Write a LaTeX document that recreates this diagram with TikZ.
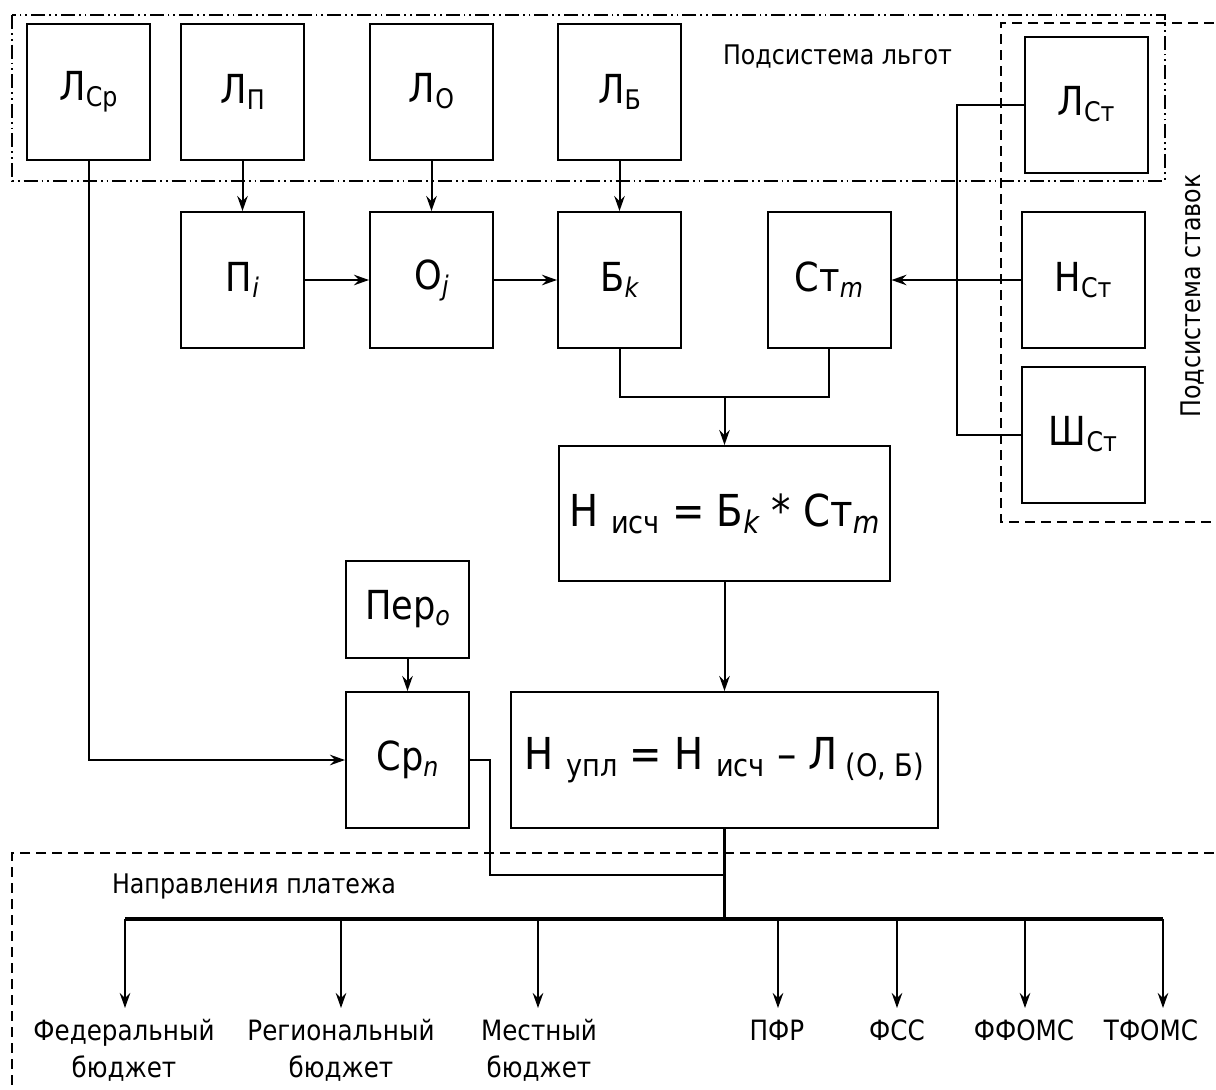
\documentclass[tikz,border=0pt]{standalone}
\usepackage{fontspec}
\setmainfont{DejaVu Sans}[FakeStretch=0.88]
\usetikzlibrary{arrows.meta}
\newcommand\lsub[1]{\raisebox{-6pt}{\fontsize{27}{27}\selectfont #1}}
\newcommand\fsub[1]{\raisebox{-7pt}{\fontsize{31}{31}\selectfont #1}}
\tikzset{
  sbox/.style={draw, line width=2pt, minimum width=123pt, minimum height=136pt, inner sep=0pt, font=\fontsize{40}{44}\selectfont},
  formbox/.style={sbox, font=\fontsize{44}{48}\selectfont},
  arr/.style={line width=2pt, -{Stealth[length=15pt,width=10.5pt,inset=5pt]}},
  ln/.style={line width=2pt},
  thinln/.style={line width=1.4pt},
  thickln/.style={line width=3.2pt},
  dashdotdot/.style={line width=1.6pt, dash pattern=on 14pt off 4pt on 1.8pt off 4pt on 1.8pt off 4pt},
  dashbox/.style={line width=1.6pt, dash pattern=on 10pt off 6pt},
  captxt/.style={font=\fontsize{27}{30}\selectfont, inner sep=0pt},
  desttxt/.style={font=\fontsize{28}{37}\selectfont, align=center, inner xsep=0pt, inner ysep=11.5pt, anchor=north},
}
\begin{document}
\begin{tikzpicture}[x=1pt,y=-1pt]
\useasboundingbox (0,0) rectangle (1216,1090);
% subsystem frames
\draw[dashdotdot] (12,15) rectangle (1165,181);
\draw[dashbox] (1230,23) -- (1001,23) -- (1001,522) -- (1230,522);
\draw[dashbox] (1230,853) -- (12,853) -- (12,1100);
\node[captxt] (tl) at (837.5,57) {Подсистема льгот};
\node[captxt, rotate=90] (ts) at (1193,296) {Подсистема ставок};
\node[captxt, anchor=base] (tn) at (254,893) {Направления платежа};
% top row
\node[sbox] (LCr) at (88.5,91.5) {Л\lsub{Ср}};
\node[sbox] (LP) at (242.5,91.5) {Л\lsub{П}};
\node[sbox] (LO) at (431.5,91.5) {Л\lsub{О}};
\node[sbox] (LB) at (619.5,91.5) {Л\lsub{Б}};
\node[sbox] (LSt) at (1086,104.5) {Л\lsub{Ст}};
% second row
\node[sbox] (Pi) at (242.5,280) {П\lsub{\itshape i}};
\node[sbox] (Oj) at (431.5,280) {О\lsub{\itshape j}};
\node[sbox] (Bk) at (619.5,280) {Б\lsub{\itshape k}};
\node[sbox] (Stm) at (829,280) {Ст\lsub{\itshape m}};
\node[sbox] (NSt) at (1083,280) {Н\lsub{Ст}};
\node[sbox] (ShSt) at (1083,434.5) {Ш\lsub{Ст}};
% formulas
\node[formbox, minimum width=331pt, minimum height=135pt] (Nis) at (724.5,513.5) {Н \fsub{исч} = Б\fsub{\itshape k} * Ст\fsub{\itshape m}};
\node[sbox, minimum height=97pt] (Per) at (407.5,609.5) {Пер\lsub{\itshape o}};
\node[sbox] (Crn) at (407.5,760) {Ср\lsub{\itshape n}};
\node[formbox, minimum width=427pt] (Nup) at (724.5,760) {Н \fsub{упл} = Н \fsub{исч} – Л\,\fsub{(О, Б)}};
% connectors
\draw[arr] (LP) -- (Pi);
\draw[arr] (LO) -- (Oj);
\draw[arr] (LB) -- (Bk);
\draw[arr] (Pi) -- (Oj);
\draw[arr] (Oj) -- (Bk);
\draw[arr] (NSt.west) -- (Stm.east);
\coordinate (jx) at (957,280);
\draw[ln] (LSt.west) -| (jx) |- (ShSt.west);
\coordinate (mj) at (724.5,397);
\draw[ln] (Bk.south) |- (mj) -| (Stm.south);
\draw[arr] (mj) -- (Nis.north);
\draw[arr] (Nis) -- (Nup);
\draw[arr] (Per) -- (Crn);
\draw[arr] (LCr.south) |- (Crn.west);
\coordinate (cj) at (490,875);
\coordinate (cb) at (724.5,875);
\draw[thinln] (Crn.east) -| (cj) -- (cb);
\coordinate (bj) at (724.5,919);
\draw[thickln] (Nup.south) -- (bj);
% destinations
\node[desttxt] (fed) at (124,1008) {Федеральный\\бюджет};
\node[desttxt] (reg) at (341,1008) {Региональный\\бюджет};
\node[desttxt] (mes) at (539,1008) {Местный\\бюджет};
\node[desttxt] (pfr) at (777,1008) {ПФР};
\node[desttxt] (fss) at (897,1008) {ФСС};
\node[desttxt] (ffo) at (1024,1008) {ФФОМС};
\node[desttxt] (tfo) at (1151,1008) {ТФОМС};
\coordinate (b1) at (125,919);
\coordinate (b2) at (341,919);
\coordinate (b3) at (538,919);
\coordinate (b4) at (778,919);
\coordinate (b5) at (897,919);
\coordinate (b6) at (1025,919);
\coordinate (b7) at (1163,919);
\draw[thickln] (b1) -- (b7);
\draw[arr] (b1) -- (b1 |- fed.north);
\draw[arr] (b2) -- (b2 |- reg.north);
\draw[arr] (b3) -- (b3 |- mes.north);
\draw[arr] (b4) -- (b4 |- pfr.north);
\draw[arr] (b5) -- (b5 |- fss.north);
\draw[arr] (b6) -- (b6 |- ffo.north);
\draw[arr] (b7) -- (b7 |- tfo.north);
\end{tikzpicture}
\end{document}
